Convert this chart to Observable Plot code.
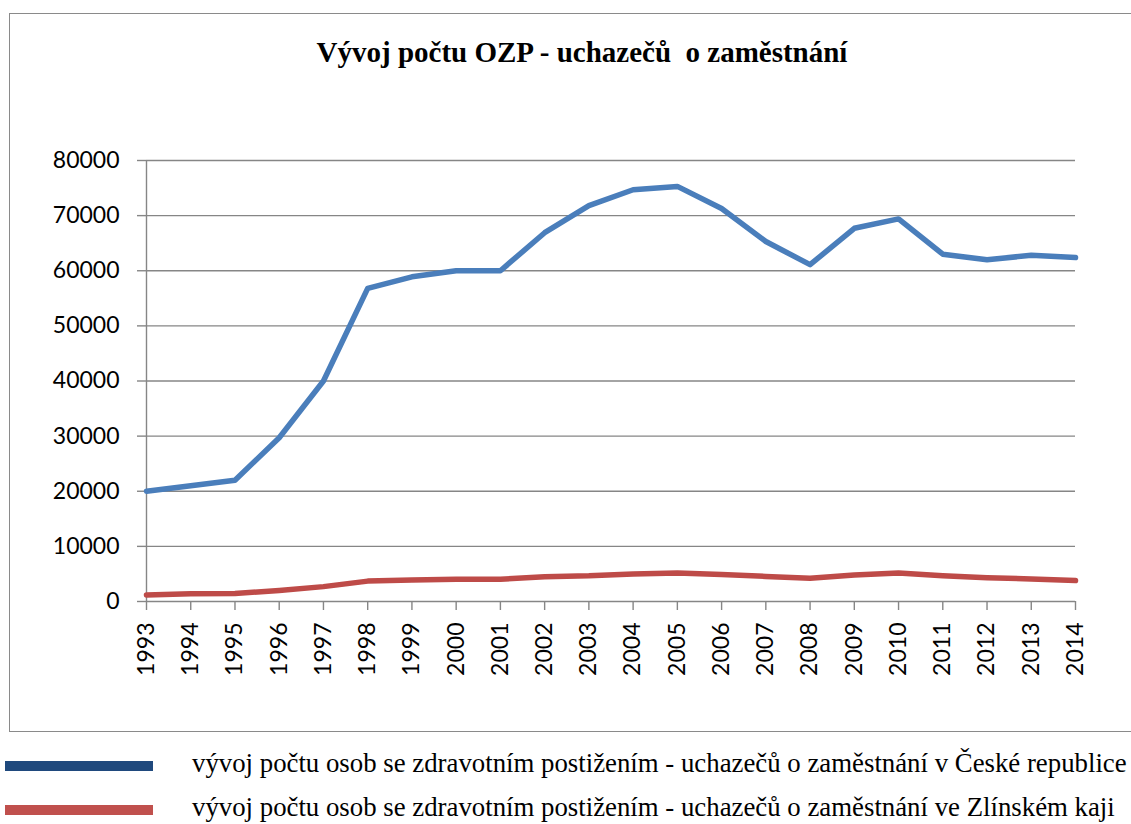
<!DOCTYPE html>
<html><head><meta charset="utf-8">
<script src="https://cdn.jsdelivr.net/npm/d3@7"></script>
<script src="https://cdn.jsdelivr.net/npm/@observablehq/plot@0.6"></script>
<style>
body{margin:0;background:#fff;}
#wrap{position:relative;width:1131px;height:824px;overflow:hidden;background:#fff;}
#box{position:absolute;left:9px;top:13px;width:1140px;height:719px;border:1.5px solid #8a8a8a;box-sizing:border-box;}
#title{position:absolute;left:582px;top:36px;transform:translateX(-50%);white-space:pre;font-family:"Liberation Serif","Times New Roman",serif;font-weight:bold;font-size:29px;color:#000;}
#chart{position:absolute;left:0;top:0;}
.leg{position:absolute;left:0;width:1131px;height:30px;}
.leg .sw{position:absolute;left:5px;width:148px;height:10px;}
.leg .tx{position:absolute;left:192px;white-space:nowrap;font-family:"Liberation Serif","Times New Roman",serif;font-size:26.8px;color:#000;}
</style></head>
<body>
<div id="wrap">
  <div id="box"></div>
  <div id="title">Vývoj počtu OZP - uchazečů  o zaměstnání</div>
  <div id="chart"></div>
  <div id="legend"></div>
</div>
<script>
const years = [1993,1994,1995,1996,1997,1998,1999,2000,2001,2002,2003,2004,2005,2006,2007,2008,2009,2010,2011,2012,2013,2014];
const czValues = [20000,21000,22000,29700,40000,56800,58900,60000,60000,66900,71800,74700,75300,71300,65300,61100,67700,69400,63000,62000,62800,62400];
const zlinValues = [1200,1400,1450,2000,2700,3700,3900,4050,4050,4500,4650,5000,5150,4900,4550,4200,4800,5150,4650,4300,4100,3800];
const yTicks = [0,10000,20000,30000,40000,50000,60000,70000,80000];
const seriesNames = [
  "vývoj počtu osob se zdravotním postižením - uchazečů o zaměstnání v České republice",
  "vývoj počtu osob se zdravotním postižením - uchazečů o zaměstnání ve Zlínském kaji"
];
const lineColors = ["#4A7EBB", "#BE4B48"];
const legendColors = ["#1F497D", "#C0504D"];

const cz = years.map((y,i)=>({year:y, value:czValues[i]}));
const zl = years.map((y,i)=>({year:y, value:zlinValues[i]}));

const chart = Plot.plot({
  width:1131, height:735,
  marginLeft:146, marginRight:56, marginTop:160, marginBottom:134,
  style:{background:"transparent", fontFamily:"Lato, 'DejaVu Sans', sans-serif", fontSize:"23px", color:"#000", overflow:"visible"},
  x:{domain:[1993,2014]},
  y:{domain:[0,80000]},
  marks:[
    Plot.gridY(yTicks,{stroke:"#868686", strokeOpacity:1, strokeWidth:1.4}),
    Plot.axisY(yTicks,{tickSize:9, tickPadding:18, stroke:"#868686", strokeWidth:1.4, fill:"#000", tickFormat:d=>String(d), label:null}),
    Plot.axisX(years,{tickSize:9, tickPadding:12, tickRotate:-90, textAnchor:"end", stroke:"#868686", strokeWidth:1.4, fill:"#000", tickFormat:d=>String(d), label:null}),
    Plot.ruleX([1993],{stroke:"#868686", strokeWidth:1.4}),
    Plot.line(zl,{x:"year", y:"value", stroke:lineColors[1], strokeWidth:5.5, strokeLinejoin:"round", strokeLinecap:"round"}),
    Plot.line(cz,{x:"year", y:"value", stroke:lineColors[0], strokeWidth:5.5, strokeLinejoin:"round", strokeLinecap:"round"})
  ]
});
document.getElementById("chart").appendChild(chart);

const legend = document.getElementById("legend");
const tops = [751, 795];
seriesNames.forEach((name,i)=>{
  const row = document.createElement("div");
  row.className = "leg";
  row.style.top = tops[i] + "px";
  const sw = document.createElement("div");
  sw.className = "sw";
  sw.style.top = "10px";
  sw.style.background = legendColors[i];
  const tx = document.createElement("div");
  tx.className = "tx";
  tx.style.top = "-3px";
  tx.textContent = name;
  row.appendChild(sw); row.appendChild(tx);
  legend.appendChild(row);
});
</script>
</body></html>
